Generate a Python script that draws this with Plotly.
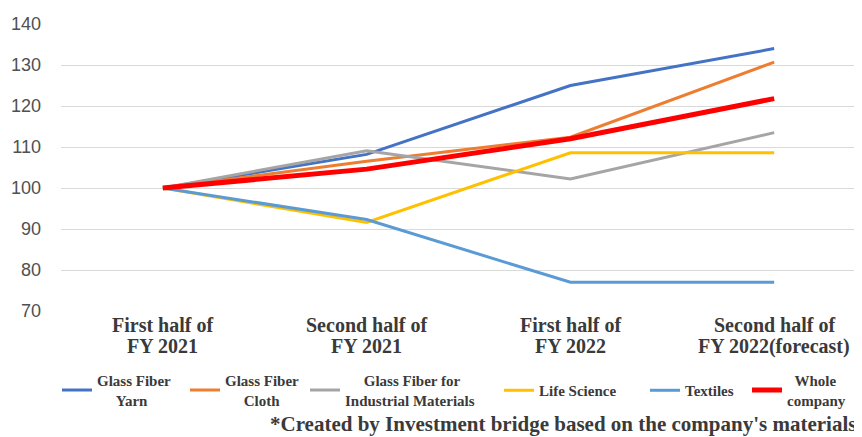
import plotly.graph_objects as go

categories = ["First half of<br>FY 2021", "Second half of<br>FY 2021",
              "First half of<br>FY 2022", "Second half of<br>FY 2022(forecast)"]
series_names = ["Glass Fiber<br>Yarn", "Glass Fiber<br>Cloth",
                "Glass Fiber for<br>Industrial Materials", "Life Science",
                "Textiles", "Whole<br>company"]
yarn = [100, 108.2, 125.0, 134.0]
cloth = [100, 106.5, 112.4, 130.7]
industrial = [100, 109.1, 102.2, 113.5]
life_science = [100, 91.6, 108.6, 108.6]
textiles = [100, 92.3, 77.0, 77.0]
whole = [100, 104.6, 112.0, 121.8]
y_ticks = [70, 80, 90, 100, 110, 120, 130, 140]
footnote = "*Created by Investment bridge based on the company's materials"

values = [yarn, cloth, industrial, life_science, textiles, whole]
colors = ["#4472C4", "#ED7D31", "#A5A5A5", "#FFC000", "#5B9BD5", "#FF0000"]
widths = [3, 3, 3, 3, 3, 5]

# centring of the two-line legend labels (leading no-break spaces)
pad_line1 = [0, 0, 5, 0, 0, 2]
pad_line2 = [5, 5, 0, 0, 0, 0]
# one legend per series so each entry sits where the reference has it
legend_x = [-0.005, 0.1548, 0.3046, 0.5468, 0.7291, 0.8564]
legend_y = [-0.1847, -0.1847, -0.1847, -0.2196, -0.2196, -0.1847]

serif = "Liberation Serif"
txt = "#3a3a3a"
NB = "\u00a0"

fig = go.Figure()
xs = list(range(len(categories)))
layout_legends = {}
for k, (name, vals, c, w) in enumerate(zip(series_names, values, colors, widths)):
    parts = name.split("<br>")
    pads = [pad_line1[k], pad_line2[k]]
    label = "<br>".join(NB * pads[j] + p for j, p in enumerate(parts))
    lg = "legend" if k == 0 else f"legend{k + 1}"
    fig.add_trace(go.Scatter(x=xs, y=vals, mode="lines", name=label,
                             line=dict(color=c, width=w), legend=lg))
    layout_legends[lg] = dict(orientation="h", x=legend_x[k], y=legend_y[k],
                              xanchor="left", yanchor="top",
                              bgcolor="rgba(0,0,0,0)",
                              font=dict(family=serif, size=15, color=txt,
                                        weight="bold"),
                              itemwidth=30)

annotations = []
# category labels, one annotation per line for tight line spacing
for i, cat in enumerate(categories):
    for j, line in enumerate(cat.split("<br>")):
        annotations.append(dict(text=line, xref="x", yref="paper", x=i,
                                y=-0.0488 - j * 0.0732, xanchor="center",
                                yanchor="middle", showarrow=False,
                                borderpad=0,
                                font=dict(family=serif, size=20, color=txt,
                                          weight="bold")))
annotations.append(dict(text=footnote, xref="paper", yref="paper", x=0.995,
                        y=-0.392, xanchor="right", yanchor="middle",
                        showarrow=False,
                        font=dict(family=serif, size=21, color=txt,
                                  weight="bold")))

fig.update_layout(
    width=854, height=429,
    margin=dict(l=53, r=0, t=16, b=126),
    paper_bgcolor="white", plot_bgcolor="white",
    showlegend=True,
    xaxis=dict(tickvals=xs, ticktext=categories, range=[-0.5, 3.431],
               showticklabels=False, showgrid=False, zeroline=False,
               showline=False, ticks=""),
    yaxis=dict(range=[70, 140], tickvals=y_ticks, showgrid=True,
               gridcolor="#D9D9D9", gridwidth=1, zeroline=False,
               showline=False, ticks="", ticklabelstandoff=19,
               tickfont=dict(family="Liberation Sans", size=18,
                             color="#505050")),
    annotations=annotations,
    **layout_legends,
)
fig.write_html("out.html")
